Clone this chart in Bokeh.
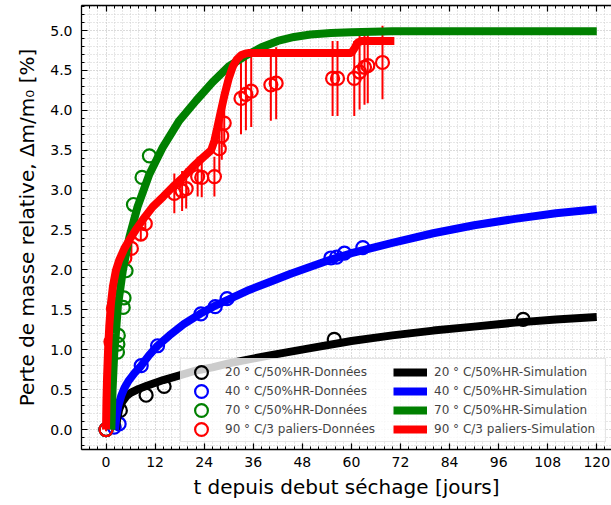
from bokeh.plotting import figure
from bokeh.models import (LinearAxis, SingleIntervalTicker, Legend, LegendItem,
                          Range1d, PrintfTickFormatter)
from bokeh.embed import file_html
from bokeh.resources import INLINE

# ---------------- data ----------------
# measured points ("Données")
t_20 = [0.0, 3.5, 9.8, 14.2, 55.8, 102.0]
m_20 = [0.0, 0.24, 0.43, 0.54, 1.13, 1.38]

t_40 = [0.0, 2.0, 3.2, 8.6, 12.6, 23.2, 26.7, 29.6, 55.0, 56.4, 58.3, 62.8]
m_40 = [0.0, 0.03, 0.07, 0.80, 1.05, 1.45, 1.54, 1.64, 2.15, 2.16, 2.21, 2.28]

t_70 = [0.0, 2.8, 2.9, 3.0, 4.2, 4.4, 4.9, 6.7, 8.8, 10.6]
m_70 = [0.0, 0.97, 1.07, 1.18, 1.53, 1.65, 1.99, 2.82, 3.16, 3.43]

t_90 = [0.0, 1.2, 1.8, 4.6, 6.2, 8.5, 9.6, 16.7, 18.6, 19.6, 22.4, 23.4, 26.5,
        27.7, 28.3, 28.9, 33.0, 34.2, 35.5, 40.3, 41.6, 55.4, 56.6, 60.7, 62.0,
        63.2, 64.0, 67.6]
m_90 = [0.0, 1.10, 1.52, 2.15, 2.27, 2.45, 2.58, 2.96, 2.99, 3.02, 3.17, 3.16, 3.17,
        3.52, 3.68, 3.84, 4.15, 4.20, 4.24, 4.32, 4.34, 4.40, 4.40, 4.40, 4.48,
        4.54, 4.56, 4.60]
e_90 = [0.02, 0.04, 0.05, 0.06, 0.07, 0.08, 0.09, 0.25, 0.25, 0.25, 0.25, 0.25, 0.25,
        0.30, 0.30, 0.30, 0.45, 0.45, 0.45, 0.45, 0.45, 0.47, 0.47, 0.47, 0.47,
        0.47, 0.47, 0.46]

# simulation curves ("Simulation")
ts_20 = [2.4, 2.7, 3.2, 4.0, 5.0, 6.0, 8.0, 10.0, 14.0, 18.0, 22.0, 26.0, 30.0,
         40.0, 50.0, 60.0, 70.0, 80.0, 90.0, 100.0, 110.0, 120.0]
ms_20 = [0.0, 0.12, 0.25, 0.35, 0.42, 0.46, 0.51, 0.55, 0.62, 0.68, 0.74, 0.78, 0.83,
         0.93, 1.02, 1.11, 1.18, 1.24, 1.29, 1.34, 1.38, 1.41]

ts_40 = [2.2, 2.5, 3.0, 3.7, 4.5, 5.5, 7.0, 8.6, 10.5, 12.6, 15.5, 19.0, 23.0, 27.0,
         30.0, 35.0, 40.0, 45.0, 50.0, 55.0, 60.0, 70.0, 80.0, 90.0, 100.0, 110.0, 120.0]
ms_40 = [0.0, 0.15, 0.30, 0.42, 0.52, 0.61, 0.71, 0.80, 0.93, 1.05, 1.18, 1.32, 1.45,
         1.56, 1.63, 1.75, 1.85, 1.95, 2.04, 2.13, 2.21, 2.34, 2.46, 2.56, 2.64, 2.71, 2.76]

ts_70 = [1.3, 1.6, 2.0, 2.4, 2.9, 4.1, 5.7, 7.7, 10.6, 13.9, 17.9, 22.0, 26.0, 30.0,
         34.0, 38.0, 42.0, 46.0, 50.0, 55.0, 60.0, 70.0, 80.0, 120.0]
ms_70 = [0.0, 0.50, 0.95, 1.20, 1.55, 1.99, 2.41, 2.79, 3.20, 3.54, 3.87, 4.12, 4.35,
         4.55, 4.68, 4.79, 4.87, 4.92, 4.95, 4.97, 4.98, 4.99, 4.99, 4.99]

ts_90 = [0.0, 0.1, 0.25, 0.5, 0.8, 1.2, 1.7, 2.4, 3.2, 4.5, 6.0, 7.5, 9.0, 11.4,
         14.0, 16.3, 19.0, 21.2, 23.5, 25.7, 26.5, 27.2, 28.0, 29.0, 30.0, 31.0,
         32.0, 33.0, 34.0, 35.0, 36.0, 40.0, 50.0, 60.0, 60.8, 61.5, 62.5, 66.0, 70.5]
ms_90 = [0.0, 0.35, 0.65, 1.00, 1.30, 1.58, 1.80, 1.99, 2.12, 2.27, 2.40, 2.52, 2.63,
         2.79, 2.92, 3.04, 3.17, 3.29, 3.40, 3.50, 3.62, 3.78, 3.97, 4.20, 4.40, 4.55,
         4.64, 4.69, 4.71, 4.72, 4.72, 4.72, 4.72, 4.72, 4.78, 4.85, 4.87, 4.87, 4.87]

labels_data = ["20 ° C/50%HR-Données", "40 ° C/50%HR-Données",
               "70 ° C/50%HR-Données", "90 ° C/3 paliers-Données"]
labels_sim = ["20 ° C/50%HR-Simulation", "40 ° C/50%HR-Simulation",
              "70 ° C/50%HR-Simulation", "90 ° C/3 paliers-Simulation"]
colors = ["#000000", "#0000ff", "#008000", "#ff0000"]

FONT = "DejaVu Sans"

# ---------------- figure ----------------
p = figure(width=611, height=505, output_backend="svg", toolbar_location=None,
           x_range=Range1d(-6, 123.6), y_range=Range1d(-0.25, 5.314),
           min_border_left=81, min_border_right=0, min_border_top=5,
           min_border_bottom=56)
p.outline_line_color = None
p.background_fill_color = "white"
p.border_fill_color = "white"

xt = SingleIntervalTicker(interval=12, num_minor_ticks=6)
yt = SingleIntervalTicker(interval=0.5, num_minor_ticks=5)

for ax in (p.xaxis, p.yaxis):
    ax.major_tick_in = 6
    ax.major_tick_out = 0
    ax.minor_tick_in = 3
    ax.minor_tick_out = 0
    ax.axis_line_width = 1.3
    ax.major_tick_line_width = 1.2
    ax.major_label_text_font = FONT
    ax.major_label_text_font_size = "14px"
    ax.major_label_text_color = "black"
    ax.axis_label_text_font = FONT
    ax.axis_label_text_font_size = "20px"
    ax.axis_label_text_font_style = "normal"
    ax.axis_label_text_color = "black"

p.xaxis.ticker = xt
p.yaxis.ticker = yt
p.yaxis.formatter = PrintfTickFormatter(format="%.1f")
p.xaxis.major_label_standoff = 7
p.yaxis.major_label_standoff = 9
p.xaxis.axis_label = "t depuis debut séchage [jours]"
p.xaxis.axis_label_standoff = 5
p.yaxis.axis_label = "Perte de masse relative, Δm/m₀ [%]"
p.yaxis.axis_label_standoff = 8

top = LinearAxis(ticker=xt, major_tick_in=6, major_tick_out=0, minor_tick_in=3,
                 minor_tick_out=0, axis_line_width=1.3, major_tick_line_width=1.2,
                 major_label_text_font_size="1px", major_label_text_color=None,
                 major_label_standoff=0)
p.add_layout(top, "above")

for g, t in ((p.xgrid, xt), (p.ygrid, yt)):
    g.ticker = t
    g.grid_line_color = "#cfcfcf"
    g.grid_line_dash = "1 2"
    g.minor_grid_line_color = "#cfcfcf"
    g.minor_grid_line_dash = "1 2"

# ---------------- glyphs ----------------
# error bars of 90 °C data
lo_90 = [m - e for m, e in zip(m_90, e_90)]
hi_90 = [m + e for m, e in zip(m_90, e_90)]
p.segment(x0=t_90, y0=lo_90, x1=t_90, y1=hi_90, line_color="#ff0000", line_width=2)

data_r = []
for (tt, mm), c in zip(((t_20, m_20), (t_40, m_40), (t_70, m_70), (t_90, m_90)), colors):
    r = p.ellipse(x=tt, y=mm, width=13, height=13, width_units="screen",
                  height_units="screen", fill_color=None, line_color=c, line_width=2.2)
    data_r.append(r)

sim_r = []
for (tt, mm), c in zip(((ts_20, ms_20), (ts_40, ms_40), (ts_70, ms_70), (ts_90, ms_90)), colors):
    r = p.line(tt, mm, line_color=c, line_width=8)
    sim_r.append(r)

items = [LegendItem(label=l, renderers=[r]) for l, r in zip(labels_data, data_r)]
items += [LegendItem(label=l, renderers=[r]) for l, r in zip(labels_sim, sim_r)]

legend = Legend(items=items, location=(99, 7), ncols=2, orientation="vertical",
                label_text_font=FONT, label_text_font_size="12px",
                glyph_width=34, glyph_height=16, label_height=19, label_width=168,
                label_standoff=7, spacing=0, padding=3, margin=0,
                border_line_color="#cccccc", border_line_width=1,
                background_fill_color="white", background_fill_alpha=0.8)
p.add_layout(legend)

open("out.html", "w").write(file_html(p, INLINE))
